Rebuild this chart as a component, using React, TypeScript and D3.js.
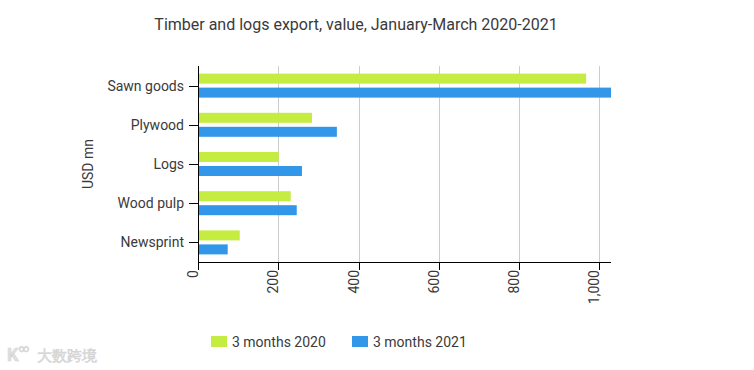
import React from 'react';
import * as d3 from 'd3';

const categories = ['Sawn goods', 'Plywood', 'Logs', 'Wood pulp', 'Newsprint'];
const seriesNames = ['3 months 2020', '3 months 2021'];
const values2020 = [967, 284, 201, 231, 104];
const values2021 = [1029, 346, 259, 246, 74];
const xTicks = [0, 200, 400, 600, 800, 1000];

const colors = ['#c5ec41', '#3296e9'];
const font = 'Roboto, "Noto Sans", sans-serif';

const width = 754;
const height = 370;
const margin = { top: 66, right: 143, bottom: 108, left: 198 };

const App = () => {
  const series = [values2020, values2021];
  const innerRight = width - margin.right;
  const innerBottom = height - margin.bottom;

  const x = d3.scaleLinear()
    .domain([0, d3.max(values2021.concat(values2020)) as number])
    .range([margin.left, innerRight]);

  const y = d3.scaleBand()
    .domain(categories)
    .range([margin.top, innerBottom]);

  // two bars per category, 10px each with a 4px gap
  const groupH = 24;
  const y1 = d3.scaleBand()
    .domain(seriesNames)
    .range([0, groupH])
    .paddingInner(2 - groupH / 14);

  const fmt = d3.format(',');

  return (
    <svg width={width} height={height} style={{ position: 'absolute', left: 0, top: 0, background: '#fff' }}
      fontFamily={font}>
      {/* Title */}
      <text x={356} y={30} textAnchor="middle" fontSize={16} fill="#3a3a3a">
        Timber and logs export, value, January-March 2020-2021
      </text>

      {/* Grid lines */}
      <g>
        {xTicks.filter(t => t > 0).map(t => (
          <line key={t} x1={Math.round(x(t)) + 0.5} x2={Math.round(x(t)) + 0.5}
            y1={margin.top} y2={innerBottom} stroke="#cccccc" strokeWidth={1} />
        ))}
      </g>

      {/* Bars */}
      {categories.map((cat, i) => {
        const top = (y(cat) as number) + (y.bandwidth() - groupH) / 2;
        return (
          <g key={cat}>
            {series.map((vals, s) => (
              <rect key={s}
                x={x(0)}
                y={top + (y1(seriesNames[s]) as number)}
                width={x(vals[i]) - x(0)}
                height={y1.bandwidth()}
                fill={colors[s]} />
            ))}
          </g>
        );
      })}

      {/* Y axis */}
      <g>
        <line x1={margin.left + 0.5} x2={margin.left + 0.5} y1={margin.top} y2={innerBottom + 0.5}
          stroke="#000" strokeWidth={1} />
        {categories.map(cat => {
          const cy = Math.round((y(cat) as number) + y.bandwidth() / 2) + 0.5;
          return (
            <g key={cat}>
              <line x1={margin.left - 9} x2={margin.left} y1={cy} y2={cy} stroke="#000" />
              <text x={margin.left - 14} y={cy} dy="0.35em" textAnchor="end" fontSize={14} fill="#3a3a3a">
                {cat}
              </text>
            </g>
          );
        })}
        <text transform={`translate(93, ${(margin.top + innerBottom) / 2}) rotate(-90)`}
          textAnchor="middle" fontSize={14} fill="#3a3a3a">USD mn</text>
      </g>

      {/* X axis */}
      <g>
        <line x1={margin.left} x2={innerRight} y1={innerBottom + 0.5} y2={innerBottom + 0.5}
          stroke="#000" strokeWidth={1} />
        {xTicks.map(t => {
          const tx = Math.round(x(t)) + 0.5;
          return (
            <g key={t}>
              <line x1={tx} x2={tx} y1={innerBottom} y2={innerBottom + 8} stroke="#000" />
              <text transform={`translate(${tx - 0.5}, ${innerBottom + 8}) rotate(-90)`}
                textAnchor="end" fontSize={14} fill="#3a3a3a">{fmt(t)}</text>
            </g>
          );
        })}
      </g>

      {/* Legend */}
      <g>
        {seriesNames.map((name, s) => {
          const lx = s === 0 ? 211 : 352;
          return (
            <g key={name}>
              <rect x={lx} y={336} width={16} height={11} fill={colors[s]} />
              <text x={lx + 21} y={346.5} fontSize={14} fill="#3a3a3a">{name}</text>
            </g>
          );
        })}
      </g>

      {/* Watermark */}
      <g fill="#e2e2e2" stroke="#d4d4d4" strokeWidth={0.6}>
        <text x={7} y={361} fontSize={18} fontWeight="bold">K</text>
        <text x={19} y={352} fontSize={10}>∞</text>
        <text x={37} y={361} fontSize={15}>大数跨境</text>
      </g>
    </svg>
  );
};

export default App;
